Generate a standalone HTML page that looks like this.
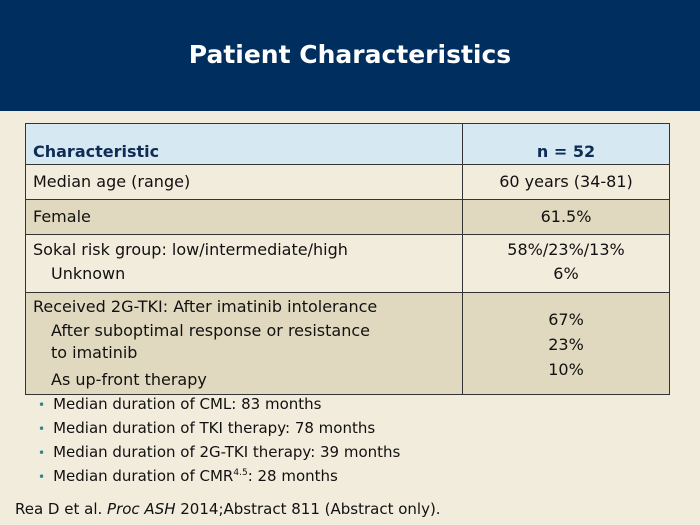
<!DOCTYPE html>
<html><head><meta charset="utf-8"><style>
body{margin:0;width:700px;height:525px;background:#f2ecdd;font-family:"DejaVu Sans","Liberation Sans",sans-serif;position:relative;overflow:hidden;color:#111}
#hdr{position:absolute;left:0;top:0;width:700px;height:111px;background:#002f5f}
#title{position:absolute;left:0;width:700px;top:40px;text-align:center;color:#fff;font-weight:bold;font-size:25px}
table{position:absolute;left:25px;top:123px;width:645px;border-collapse:collapse;font-size:16px}
td{border:1.5px solid #333;padding:0 7px;vertical-align:top}
td.r{text-align:center;width:192px}
.hd td{background:#d6e8f1;color:#0d2d57;font-weight:bold;height:37px;vertical-align:bottom;padding-bottom:3px}
.beige td{background:#e1d9bf}
.ind{padding-left:18px}
ul{position:absolute;left:38px;top:395px;margin:0;padding:0;list-style:none;font-size:15px}
li{height:24px}
li:before{content:"•";color:#2a8a8a;font-size:12px;margin-right:8px}
#ref{position:absolute;left:15px;top:500px;font-size:15px}
</style></head><body>
<div id="hdr"></div>
<div id="title">Patient Characteristics</div>
<table>
<tr class="hd"><td>Characteristic</td><td class="r">n = 52</td></tr>
<tr><td style="height:34px;line-height:34px">Median age (range)</td><td class="r" style="line-height:34px">60 years (34-81)</td></tr>
<tr class="beige"><td style="height:34px;line-height:34px">Female</td><td class="r" style="line-height:34px">61.5%</td></tr>
<tr><td style="height:54px;line-height:24px;padding-top:3px">Sokal risk group: low/intermediate/high<br><span class="ind">Unknown</span></td><td class="r" style="line-height:24px;padding-top:3px">58%/23%/13%<br>6%</td></tr>
<tr class="beige"><td style="height:98px;line-height:22px;padding-top:3px">Received 2G-TKI: After imatinib intolerance<div style="padding-left:18px;padding-top:2px">After suboptimal response or resistance<br>to imatinib</div><div style="padding-left:18px;padding-top:5px">As up-front therapy</div></td><td class="r" style="line-height:25px;padding-top:14px">67%<br>23%<br>10%</td></tr>
</table>
<ul>
<li>Median duration of CML: 83 months</li>
<li>Median duration of TKI therapy: 78 months</li>
<li>Median duration of 2G-TKI therapy: 39 months</li>
<li>Median duration of CMR<sup style="font-size:9px">4.5</sup>: 28 months</li>
</ul>
<div id="ref">Rea D et al. <i>Proc ASH</i> 2014;Abstract 811 (Abstract only).</div>
</body></html>
